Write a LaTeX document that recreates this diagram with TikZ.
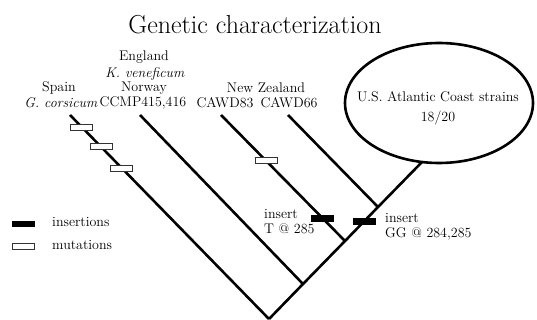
\documentclass[tikz,border=0pt]{standalone}
\usepackage{amsmath}
\usepackage{amssymb}
\usepackage{tikz}
\usetikzlibrary{shapes.geometric}

\begin{document}
\begin{tikzpicture}[x=1pt,y=-1pt,
    branch/.style={line width=2.6pt},
    mut/.style={draw=black!80,fill=white,line width=0.9pt,minimum width=22pt,minimum height=6pt,inner sep=0pt},
    ins/.style={fill=black,minimum width=23pt,minimum height=6.5pt,inner sep=0pt},
    lbl/.style={font=\fontsize{14}{15}\selectfont,inner sep=0pt,align=center}]
    \useasboundingbox (0,0) rectangle (537,320);
    % Title
    \node[font=\fontsize{26}{30}\selectfont] (title) at (255,25) {Genetic characterization};
    % Tips and joins
    \coordinate (root) at (269,319);
    \coordinate (spain) at (70,115);
    \coordinate (norway) at (140,115);
    \coordinate (nz83) at (221,115);
    \coordinate (nz66) at (288,115);
    \coordinate (j1) at (303,284);
    \coordinate (j2) at (345,241);
    \coordinate (j3) at (378,207);
    \coordinate (top) at (422,162);
    % U.S. strains
    \node[ellipse,draw,line width=2.6pt,minimum width=188pt,minimum height=120pt] (usa) at (439,103) {};
    \node[lbl] (usatxt) at (438,97) {U.S. Atlantic Coast strains};
    \node[lbl] (usanum) at (438,118) {18/20};
    % Branches
    \draw[branch] (spain) -- (root);
    \draw[branch] (norway) -- (j1);
    \draw[branch] (nz83) -- (j2);
    \draw[branch] (nz66) -- (j3);
    \draw[branch] (root) -- (j1) -- (j2) -- (j3) -- (top);
    % Mutations
    \foreach \p in {0.06,0.156,0.261} {
      \path (spain) -- (root) node[mut,pos=\p] {};
    }
    \path (nz83) -- (j2) node[mut,pos=0.363] (m4) {};
    % Insertions
    \path (nz83) -- (j2) node[ins,pos=0.82] (t285) {};
    \path (j2) -- (j3) node[ins,pos=0.576] (gg) {};
    % Strain labels
    \node[lbl] (la) at (59,88) {Spain};
    \node[lbl] (lb) at (61,103) {\textit{G. corsicum}};
    \node[lbl] (lc) at (144,57) {England};
    \node[lbl] (ld) at (145,74) {\textit{K. veneficum}};
    \node[lbl] (le) at (144,88) {Norway};
    \node[lbl] (lf) at (143,103) {CCMP415,416};
    \node[lbl] (lg) at (266,88) {New Zealand};
    \node[lbl] (lh) at (225,103) {CAWD83};
    \node[lbl] (li) at (289,103) {CAWD66};
    % Insert notes
    \node[lbl,align=left,anchor=west] (n1) at (264,222) {insert\\T @ 285};
    \node[lbl,align=left,anchor=west] (n2) at (385,227) {insert\\GG @ 284,285};
    % Legend
    \node[ins] (kins) at (23,224) {};
    \node[mut] (kmut) at (23,246) {};
    \node[lbl,anchor=west] at (52,222) {insertions};
    \node[lbl,anchor=west] at (52,245) {mutations};
\end{tikzpicture}
\end{document}
